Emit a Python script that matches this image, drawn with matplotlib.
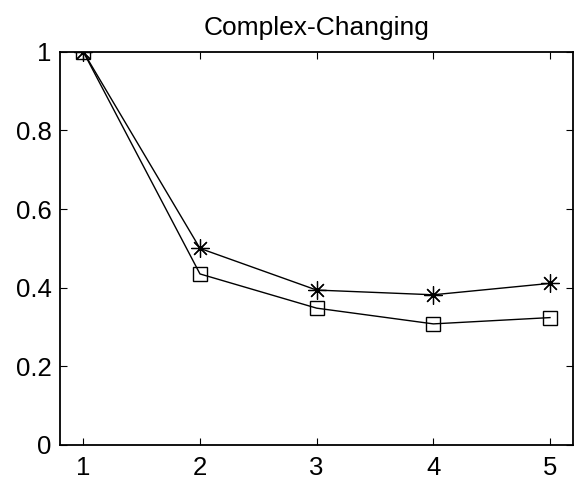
import matplotlib
matplotlib.use('Agg')
import matplotlib.pyplot as plt

plt.rcParams['font.family'] = ['Liberation Sans', 'DejaVu Sans']

# iteration index and the two measured series
steps = [1, 2, 3, 4, 5]
star_vals = [1.0, 0.500, 0.394, 0.382, 0.411]
square_vals = [1.0, 0.435, 0.348, 0.308, 0.324]

xticks = [1, 2, 3, 4, 5]
yticks = [0, 0.2, 0.4, 0.6, 0.8, 1]
ytick_labels = ['0', '0.2', '0.4', '0.6', '0.8', '1']

fig = plt.figure(figsize=(5.83, 4.84), dpi=100)
ax = fig.add_axes([0.1029, 0.0806, 0.8805, 0.8124])

ax.plot(steps, star_vals, color='black', linewidth=1.0, marker=(8, 2, 0),
        markersize=13, markeredgewidth=0.9)
ax.plot(steps, square_vals, color='black', linewidth=1.0, marker='s',
        markersize=9.5, markerfacecolor='none', markeredgewidth=1.0)

ax.set_xlim(0.8, 5.2)
ax.set_ylim(0, 1)
ax.set_xticks(xticks)
ax.set_yticks(yticks)
ax.set_yticklabels(ytick_labels)
ax.tick_params(direction='in', length=5, width=0.8, labelsize=18.5,
               top=True, right=True)
ax.tick_params(axis='x', pad=8)
ax.tick_params(axis='y', pad=6)
for s in ax.spines.values():
    s.set_linewidth(1.3)

ax.set_title('Complex-Changing', fontsize=19, pad=12)

fig.savefig('out.png', dpi=100)
